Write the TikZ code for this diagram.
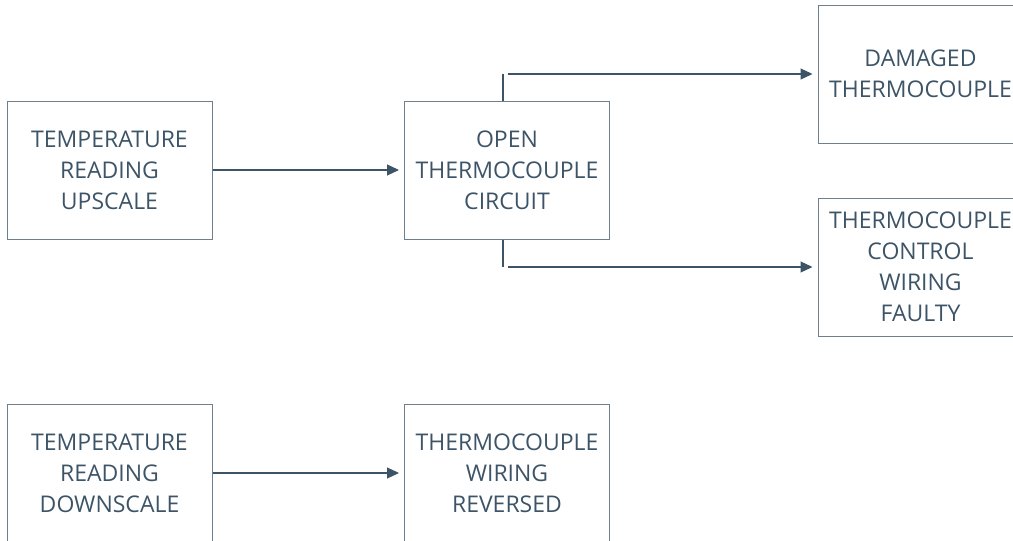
\documentclass[tikz,border=0pt]{standalone}
\usepackage{fontspec}
\setmainfont{Open Sans}
\usepackage{tikz}
\usetikzlibrary{arrows.meta, positioning}

\definecolor{inkblue}{HTML}{3D5467}
\definecolor{edgegray}{HTML}{6E808D}

\tikzset{
    fault/.style={draw=edgegray, line width=1pt, minimum width=205pt, minimum height=138pt,
        align=center, text=inkblue, font=\fontsize{23}{31}\selectfont},
    link/.style={draw=inkblue, line width=1.2pt},
    linkarrow/.style={link, -{Triangle[length=12pt, width=11pt]}, shorten >=5pt}
}

\begin{document}
\begin{tikzpicture}[x=1pt, y=-1pt]
    % Frame
    \useasboundingbox (0,0) rectangle (1013,541);
    \clip (0,0) rectangle (1013,541);

    \node[fault] (up) at (109.5, 170) {TEMPERATURE\\READING\\UPSCALE};
    \node[fault] (open) at (507, 170) {OPEN\\THERMOCOUPLE\\CIRCUIT};
    \node[fault] (damaged) at (920.5, 74) {DAMAGED\\THERMOCOUPLE};
    \node[fault] (wiring) at (920.5, 267) {THERMOCOUPLE\\CONTROL\\WIRING\\FAULTY};

    \node[fault] (down) at (109.5, 473) {TEMPERATURE\\READING\\DOWNSCALE};
    \node[fault] (reversed) at (507, 473) {THERMOCOUPLE\\WIRING\\REVERSED};

    \draw[linkarrow] (up) -- (open);
    \draw[linkarrow] (down) -- (reversed);

    % Branches
    \coordinate (topfork) at ([xshift=-4pt]open.north |- damaged.west);
    \coordinate (lowfork) at ([xshift=-4pt]open.south |- wiring.west);
    \draw[link] ([xshift=-4pt]open.north) -- (topfork);
    \draw[link] ([xshift=-4pt]open.south) -- (lowfork);
    \draw[linkarrow] ([xshift=5pt]topfork) -- (damaged.west);
    \draw[linkarrow] ([xshift=5pt]lowfork) -- (wiring.west);

\end{tikzpicture}
\end{document}
